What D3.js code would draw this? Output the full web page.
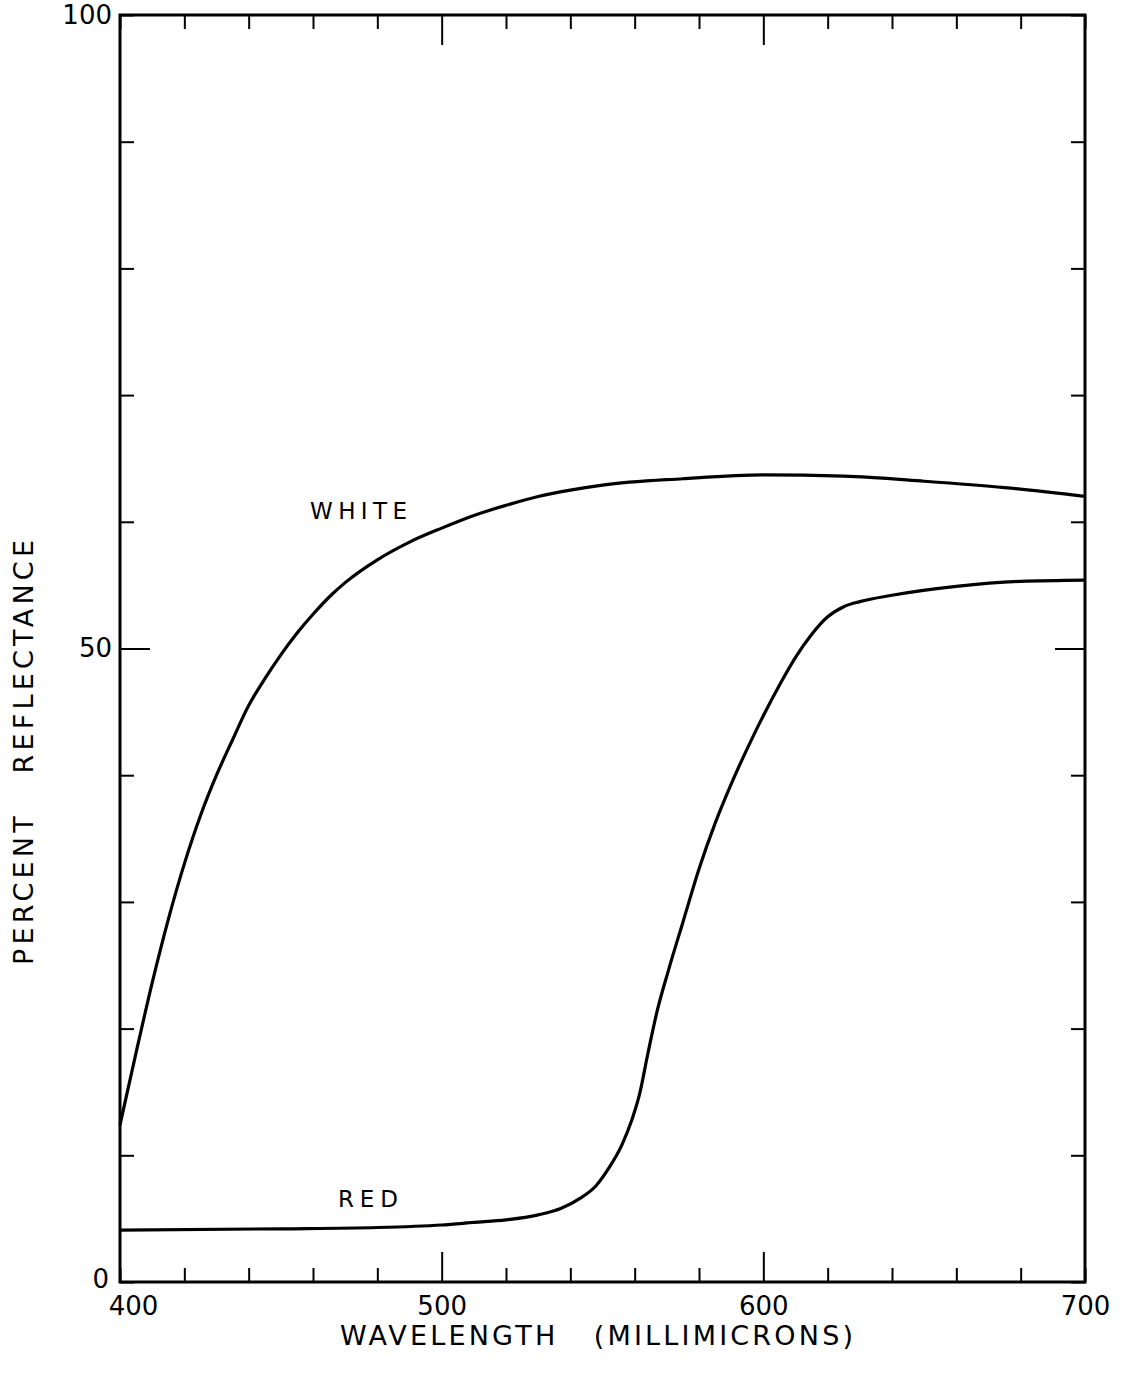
<!DOCTYPE html>
<html>
<head>
<meta charset="utf-8">
<script src="https://cdn.jsdelivr.net/npm/d3@7/dist/d3.min.js"></script>
<style>
  body{margin:0;background:#fff}
  svg{display:block}
  text{font-family:"DejaVu Sans",sans-serif;fill:#000}
</style>
</head>
<body>
<script>
// data
const whiteWave = [400,405,410,415,420,425,430,435,440,445,450,455,460,466,470,480,490,500,510,520,530,540,550,575,600,625,650,675,700]
const whiteVal  = [12.4,18.1,23.6,28.6,33.0,36.8,40.0,42.8,45.5,47.6,49.5,51.2,52.7,54.3,55.2,57.0,58.4,59.5,60.5,61.3,62.0,62.5,62.9,63.4,63.7,63.6,63.2,62.7,62.0]
const redWave = [400,450,480,500,510,520,530,537,543,548,552,556,559,561.5,564,567,570.5,575,580,585,590,595,600,605,610,615,620,625,630,640,660,680,700]
const redVal  = [4.1,4.2,4.3,4.5,4.7,4.9,5.3,5.8,6.6,7.6,9.0,10.8,12.7,14.8,17.9,21.4,24.6,28.4,32.6,36.2,39.3,42.1,44.7,47.1,49.3,51.1,52.5,53.3,53.7,54.2,54.9,55.3,55.4]
const xTicks = d3.range(400,701,20)
const yTicks = d3.range(0,101,10)
const xLabels = [400,500,600,700]
const yLabels = [0,50,100]
const longX = [500,600]
const longY = [50]

const W=1127,H=1375
const mLeft=120,mRight=1085,mTop=15,mBottom=1282

let svg = d3.select("body").append("svg").attr("width",W).attr("height",H)

let x = d3.scaleLinear().domain([400,700]).range([mLeft,mRight])
let y = d3.scaleLinear().domain([0,100]).range([mBottom,mTop])

function styleAxis(g,longVals){
  g.select(".domain").remove()
  g.selectAll(".tick line").attr("stroke","#000").attr("stroke-width",2)
  g.selectAll("text").attr("font-size",26).attr("fill","#000")
  g.selectAll(".tick").each(function(d){
    if(longVals.includes(d)){
      let ln = d3.select(this).select("line")
      if(ln.attr("y2")!=null && +ln.attr("y2")!==0) ln.attr("y2",+ln.attr("y2")>0?30:-30)
      if(ln.attr("x2")!=null && +ln.attr("x2")!==0) ln.attr("x2",+ln.attr("x2")>0?30:-30)
    }
  })
}

let fmtX = d=>xLabels.includes(d)?d:""
let fmtY = d=>yLabels.includes(d)?d:""

svg.append("g").attr("transform",`translate(0,${mBottom})`)
  .call(d3.axisBottom(x).tickValues(xTicks).tickFormat(fmtX).tickSizeInner(-14).tickSizeOuter(0).tickPadding(15))
  .call(g=>styleAxis(g,longX))
  .call(g=>g.selectAll(".tick text").filter(d=>d===400).attr("dx",13))
svg.append("g").attr("transform",`translate(0,${mTop})`)
  .call(d3.axisTop(x).tickValues(xTicks).tickFormat("").tickSizeInner(-14).tickSizeOuter(0))
  .call(g=>styleAxis(g,longX))
svg.append("g").attr("transform",`translate(${mLeft},0)`)
  .call(d3.axisLeft(y).tickValues(yTicks).tickFormat(fmtY).tickSizeInner(-14).tickSizeOuter(0).tickPadding(8))
  .call(g=>styleAxis(g,longY))
  .call(g=>g.selectAll(".tick text").filter(d=>d===0).attr("x",-11).attr("dy","0.2em"))
svg.append("g").attr("transform",`translate(${mRight},0)`)
  .call(d3.axisRight(y).tickValues(yTicks).tickFormat("").tickSizeInner(-14).tickSizeOuter(0))
  .call(g=>styleAxis(g,longY))

// frame
svg.append("rect").attr("x",mLeft).attr("y",mTop).attr("width",mRight-mLeft).attr("height",mBottom-mTop)
  .attr("fill","none").attr("stroke","#000").attr("stroke-width",3)

let line = d3.line().x(d=>x(d[0])).y(d=>y(d[1])).curve(d3.curveMonotoneX)

svg.append("path").datum(d3.zip(whiteWave,whiteVal))
  .attr("d",line).attr("fill","none").attr("stroke","#000").attr("stroke-width",3.2)
svg.append("path").datum(d3.zip(redWave,redVal))
  .attr("d",line).attr("fill","none").attr("stroke","#000").attr("stroke-width",3.2)

// curve labels
svg.append("text").attr("x",310).attr("y",519).attr("font-size",23)
  .attr("textLength",97).attr("lengthAdjust","spacing").text("WHITE")
svg.append("text").attr("x",338).attr("y",1207).attr("font-size",23)
  .attr("textLength",60).attr("lengthAdjust","spacing").text("RED")

// axis titles
svg.append("text").attr("x",340).attr("y",1345).attr("font-size",27)
  .attr("textLength",513).attr("lengthAdjust","spacing")
  .style("white-space","pre").text("WAVELENGTH   (MILLIMICRONS)")
svg.append("text").attr("transform","translate(33,965) rotate(-90)").attr("font-size",27)
  .attr("textLength",425).attr("lengthAdjust","spacing")
  .style("white-space","pre").text("PERCENT   REFLECTANCE")
</script>
</body>
</html>
